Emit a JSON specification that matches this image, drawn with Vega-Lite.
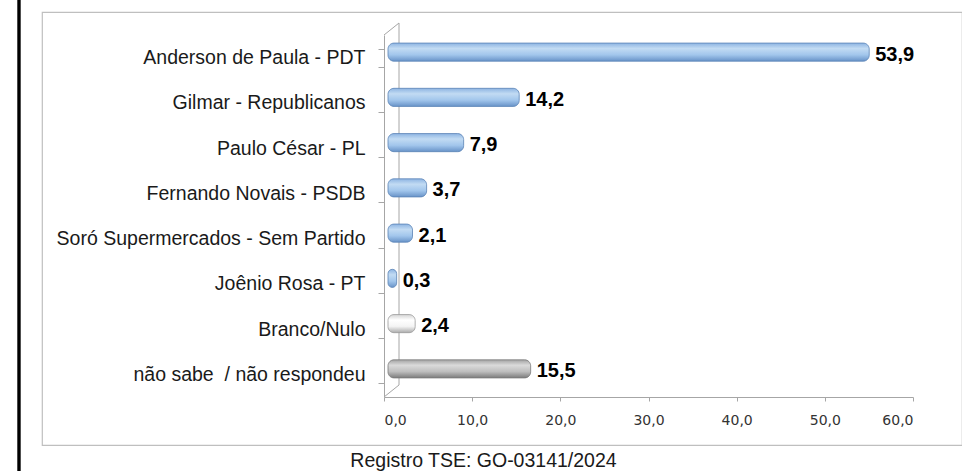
{
  "$schema": "https://vega.github.io/schema/vega-lite/v6.json",
  "width": 920,
  "height": 433,
  "autosize": "none",
  "padding": {"left": 42, "top": 12, "right": 0, "bottom": 26},
  "background": "white",
  "title": {"text": "Quirinópolis :", "anchor": "start", "font": "Liberation Sans", "fontSize": 22, "fontWeight": "normal", "color": "#111111", "baseline": "alphabetic", "offset": 3, "dy": 6},
  "data": {"values": [
    {"cat": "Anderson de Paula - PDT", "value": 53.9, "label": "53,9", "grp": "blue"},
    {"cat": "Gilmar - Republicanos", "value": 14.2, "label": "14,2", "grp": "blue"},
    {"cat": "Paulo César - PL", "value": 7.9, "label": "7,9", "grp": "blue"},
    {"cat": "Fernando Novais - PSDB", "value": 3.7, "label": "3,7", "grp": "blue"},
    {"cat": "Soró Supermercados - Sem Partido", "value": 2.1, "label": "2,1", "grp": "blue"},
    {"cat": "Joênio Rosa - PT", "value": 0.3, "label": "0,3", "grp": "blue"},
    {"cat": "Branco/Nulo", "value": 2.4, "label": "2,4", "grp": "white"},
    {"cat": "não sabe \u00a0/ não respondeu", "value": 15.5, "label": "15,5", "grp": "gray"}
  ]},
  "layer": [
    {
      "data": {"values": [{}]},
      "mark": {"type": "rule", "color": "#A6A6A6", "strokeWidth": 1, "xOffset": 15, "yOffset": -12, "y2Offset": -12},
      "encoding": {
        "x": {"datum": 0},
        "y": {"datum": 0, "type": "quantitative", "scale": {"domain": [0, 8], "range": [385, 23]}, "axis": null},
        "y2": {"datum": 8}
      }
    },
    {
      "data": {"values": [{}]},
      "mark": {"type": "rule", "color": "#A6A6A6", "strokeWidth": 1, "x2Offset": 15, "y2Offset": -12},
      "encoding": {
        "x": {"datum": 0},
        "x2": {"datum": 0},
        "y": {"datum": 8, "type": "quantitative", "scale": {"domain": [0, 8], "range": [385, 23]}, "axis": null},
        "y2": {"datum": 8}
      }
    },
    {
      "data": {"values": [{}]},
      "mark": {"type": "rule", "color": "#A6A6A6", "strokeWidth": 1, "x2Offset": 15, "y2Offset": -12},
      "encoding": {
        "x": {"datum": 0},
        "x2": {"datum": 0},
        "y": {"datum": 0, "type": "quantitative", "scale": {"domain": [0, 8], "range": [385, 23]}, "axis": null},
        "y2": {"datum": 0}
      }
    },
    {
      "data": {"values": [{}]},
      "mark": {"type": "rule", "color": "#000000", "strokeWidth": 3.4},
      "encoding": {
        "x": {"datum": -41.4},
        "y": {"datum": 0, "type": "quantitative", "scale": {"domain": [0, 1], "range": [459, -12]}, "axis": null},
        "y2": {"datum": 1}
      }
    },
    {
      "mark": {"type": "bar", "xOffset": 10, "x2Offset": 4, "yOffset": -5.5, "cornerRadiusEnd": 6, "strokeWidth": 0.8},
      "encoding": {
        "y": {"field": "cat", "type": "nominal", "sort": null,
          "scale": {"domain": ["Anderson de Paula - PDT", "Gilmar - Republicanos", "Paulo César - PL", "Fernando Novais - PSDB", "Soró Supermercados - Sem Partido", "Joênio Rosa - PT", "Branco/Nulo", "não sabe \u00a0/ não respondeu"], "range": [23, 385], "paddingInner": 0.6, "paddingOuter": 0.3},
          "axis": {"title": null, "offset": -342, "tickBand": "extent", "tickSize": 6, "tickColor": "#A6A6A6", "domainColor": "#A6A6A6", "labelPadding": 13, "labelFont": "Liberation Sans", "labelFontSize": 19.5, "labelColor": "#1a1a1a", "labelLimit": 400}},
        "x": {"field": "value", "type": "quantitative", "stack": null,
          "scale": {"domain": [0, 60], "range": [342, 871], "nice": false, "zero": true},
          "axis": {"title": "Registro TSE: GO-03141/2024", "values": [0, 10, 20, 30, 40, 50, 60]}},
        "x2": {"datum": 0},
        "fill": {
          "condition": [
            {"test": "datum.grp === 'white'", "value": {"gradient": "linear", "x1": 0, "y1": 0, "x2": 0, "y2": 1, "stops": [{"offset": 0, "color": "#D4D4D4"}, {"offset": 0.3, "color": "#FFFFFF"}, {"offset": 0.65, "color": "#F4F4F4"}, {"offset": 1, "color": "#ABABAB"}]}},
            {"test": "datum.grp === 'gray'", "value": {"gradient": "linear", "x1": 0, "y1": 0, "x2": 0, "y2": 1, "stops": [{"offset": 0, "color": "#A3A3A3"}, {"offset": 0.3, "color": "#DADADA"}, {"offset": 0.65, "color": "#BEBEBE"}, {"offset": 1, "color": "#7C7C7C"}]}}
          ],
          "value": {"gradient": "linear", "x1": 0, "y1": 0, "x2": 0, "y2": 1, "stops": [{"offset": 0, "color": "#8DB4E2"}, {"offset": 0.3, "color": "#C2DBF3"}, {"offset": 0.65, "color": "#A2C6EC"}, {"offset": 1, "color": "#6893C8"}]}
        },
        "stroke": {
          "condition": [
            {"test": "datum.grp === 'white'", "value": "#9A9A9A"},
            {"test": "datum.grp === 'gray'", "value": "#7A7A7A"}
          ],
          "value": "#5A83B5"
        }
      }
    },
    {
      "mark": {"type": "text", "align": "left", "baseline": "middle", "xOffset": 16, "yOffset": -3, "font": "Liberation Sans", "fontSize": 20, "fontWeight": "bold", "color": "#000000"},
      "encoding": {
        "y": {"field": "cat", "type": "nominal", "sort": null,
          "scale": {"domain": ["Anderson de Paula - PDT", "Gilmar - Republicanos", "Paulo César - PL", "Fernando Novais - PSDB", "Soró Supermercados - Sem Partido", "Joênio Rosa - PT", "Branco/Nulo", "não sabe \u00a0/ não respondeu"], "range": [23, 385], "paddingInner": 0.6, "paddingOuter": 0.3},
          "axis": null},
        "x": {"field": "value", "type": "quantitative", "axis": {"title": "Registro TSE: GO-03141/2024", "values": [0, 10, 20, 30, 40, 50, 60]}},
        "text": {"field": "label"}
      }
    }
  ],
  "resolve": {"scale": {"y": "independent"}},
  "config": {
    "view": {"stroke": "#BFBFBF", "strokeWidth": 1.2},
    "axisX": {
      "offset": -48, "grid": false,
      "labelExpr": "replace(format(datum.value, '.1f'), '.', ',')",
      "labelFont": "DejaVu Sans", "labelFontSize": 14, "labelColor": "#333333", "labelPadding": 12,
      "tickSize": 4, "tickColor": "#A6A6A6", "domainColor": "#A6A6A6",
      "titleFont": "Liberation Sans", "titleFontSize": 19.5, "titleFontWeight": "normal", "titleColor": "#1a1a1a",
      "titleX": 441, "titleY": 69, "titleAlign": "center", "titleBaseline": "alphabetic", "titleAnchor": null
    },
    "axisY": {"grid": false}
  }
}
